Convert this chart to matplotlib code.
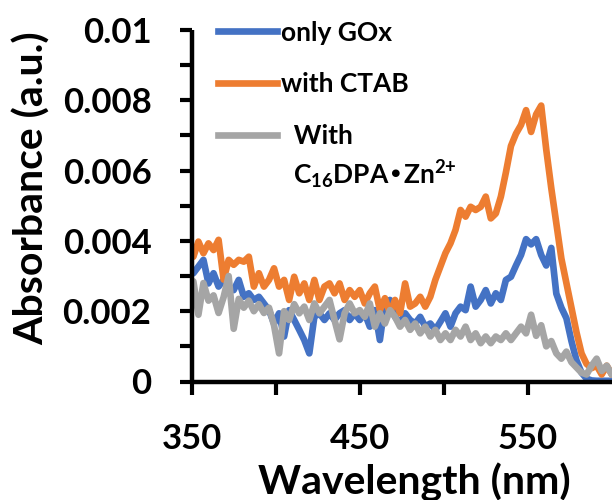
import matplotlib
matplotlib.use("Agg")
import matplotlib.pyplot as plt
from matplotlib.lines import Line2D
from matplotlib.ticker import FixedLocator, FixedFormatter

plt.rcParams['font.family'] = ['Lato', 'DejaVu Sans']
plt.rcParams['font.weight'] = 'bold'
plt.rcParams['mathtext.default'] = 'regular'

wavelength = [351 + 3 * i for i in range(84)]

only_gox = [3.08, 3.27, 3.46, 2.79, 3.08, 2.70, 2.89, 2.70, 2.60, 2.89,
            2.41, 2.51, 2.32, 2.41, 2.22, 2.03, 1.65, 1.94, 1.28, 2.03,
            1.75, 1.47, 1.18, 0.80, 1.84, 1.94, 1.75, 1.94, 1.75, 1.94,
            2.03, 1.75, 1.94, 1.75, 1.94, 1.56, 2.03, 1.18, 2.22, 2.32,
            1.84, 1.65, 1.94, 1.75, 1.65, 1.84, 1.56, 1.65, 1.47, 1.70,
            1.94, 1.56, 1.94, 2.13, 2.03, 2.70, 2.13, 2.32, 2.60, 2.22,
            2.51, 2.32, 2.89, 2.98, 3.30, 3.60, 4.05, 3.90, 4.05, 3.60,
            3.30, 3.80, 2.50, 2.10, 1.80, 1.15, 0.60, 0.25, 0.08, 0.03,
            0.02, 0.02, 0.02, 0.02]

with_ctab = [3.55, 3.98, 3.65, 3.93, 3.74, 4.03, 2.90, 3.46, 3.32, 3.46,
             3.41, 3.55, 2.70, 3.08, 2.70, 2.89, 3.22, 2.70, 2.89, 2.32,
             2.98, 2.51, 2.79, 2.32, 2.89, 2.32, 2.70, 2.79, 2.51, 2.79,
             2.32, 2.60, 2.41, 2.60, 2.22, 2.51, 2.70, 2.03, 2.37, 1.94,
             2.32, 1.94, 2.79, 2.13, 2.22, 2.41, 2.13, 2.41, 2.89, 3.27,
             3.65, 3.93, 4.31, 4.88, 4.69, 4.97, 4.88, 4.97, 5.26, 4.64,
             4.78, 5.26, 5.95, 6.70, 7.05, 7.30, 7.72, 7.10, 7.60, 7.85,
             6.60, 5.50, 4.50, 3.50, 2.80, 2.10, 1.40, 0.80, 0.50, 0.38,
             0.45, 0.20, 0.45, 0.20]

with_c16dpa_zn = [2.85, 1.90, 2.80, 2.30, 2.45, 1.95, 2.40, 3.00, 1.50, 2.35,
                  2.10, 2.30, 2.00, 2.20, 1.95, 2.10, 1.60, 0.80, 2.00, 1.75,
                  2.20, 1.94, 2.13, 1.75, 2.22, 1.94, 2.13, 2.32, 1.75, 1.20,
                  1.94, 2.22, 1.94, 2.03, 1.84, 2.22, 1.56, 1.94, 1.65, 2.03,
                  1.84, 1.56, 1.75, 1.47, 1.65, 1.37, 1.56, 1.28, 1.47, 1.18,
                  1.37, 1.18, 1.47, 1.28, 1.56, 1.18, 1.37, 1.09, 1.28, 1.09,
                  1.28, 1.18, 1.37, 1.18, 1.37, 1.56, 1.37, 1.90, 1.30, 1.60,
                  1.00, 1.15, 0.80, 0.65, 0.85, 0.55, 0.40, 0.25, 0.20, 0.45,
                  0.65, 0.30, 0.45, 0.20]

series_labels = ["only GOx", "with CTAB", "  With"]
second_line = "C$_{16}$DPA\u2022Zn$^{2{+}}$"
colors = ["#4472C4", "#ED7D31", "#A5A5A5"]

x_major = [350, 450, 550]
x_minor = [400, 500]
y_major = [0, 0.002, 0.004, 0.006, 0.008, 0.01]
y_minor = [0.001, 0.003, 0.005, 0.007, 0.009]
y_labels = ["0", "0.002", "0.004", "0.006", "0.008", "0.01"]

fig = plt.figure(figsize=(6.13, 5.0), dpi=100)
ax = fig.add_axes([0.3127, 0.237, 0.6853, 0.703])

lw = 4.8
series = [only_gox, with_ctab, with_c16dpa_zn]
for vals, c in zip(series, colors):
    ax.plot(wavelength, [v * 0.001 for v in vals], color=c, lw=lw,
            solid_joinstyle='round', solid_capstyle='round')

ax.set_xlim(350, 600)
ax.set_ylim(0, 0.01)

for s in ['top', 'right']:
    ax.spines[s].set_visible(False)
for s in ['left', 'bottom']:
    ax.spines[s].set_linewidth(3.2)
    ax.spines[s].set_capstyle('butt')

ax.xaxis.set_major_locator(FixedLocator(x_major))
ax.xaxis.set_minor_locator(FixedLocator(x_minor))
ax.yaxis.set_major_locator(FixedLocator(y_major))
ax.yaxis.set_minor_locator(FixedLocator(y_minor))
ax.yaxis.set_major_formatter(FixedFormatter(y_labels))

for which in ['major', 'minor']:
    ax.tick_params(axis='both', which=which, direction='out', length=9,
                   width=3.0, color='black')
ax.tick_params(axis='x', which='major', labelsize=25, pad=21)
ax.tick_params(axis='y', which='major', labelsize=25, pad=20)
for t in ax.get_xticklabels() + ax.get_yticklabels():
    t.set_fontweight('bold')

fig.text(414 / 613, 1 - 494 / 500, "Wavelength (nm)", ha='center',
         va='baseline', fontsize=29.5, fontweight='bold')
fig.text(44 / 613, 1 - 188 / 500, "Absorbance (a.u.)", ha='center',
         va='baseline', rotation=90, fontsize=29.5, fontweight='bold',
         rotation_mode='anchor')

handles = [Line2D([], [], color=c, lw=lw) for c in colors]
leg = ax.legend(handles, series_labels, loc='upper left',
                bbox_to_anchor=(0.0626, 1.027), frameon=False,
                fontsize=19, handlelength=2.25, handletextpad=0.12,
                labelspacing=1.05, borderaxespad=0.0, borderpad=0.0)
for t in leg.get_texts():
    t.set_fontweight('bold')

ax.text((293 - 191.7) / 420, (381.5 - 175) / 351.5, second_line,
        transform=ax.transAxes, ha='left', va='center', fontsize=19,
        fontweight='bold')

fig.savefig("out.png", dpi=100)
